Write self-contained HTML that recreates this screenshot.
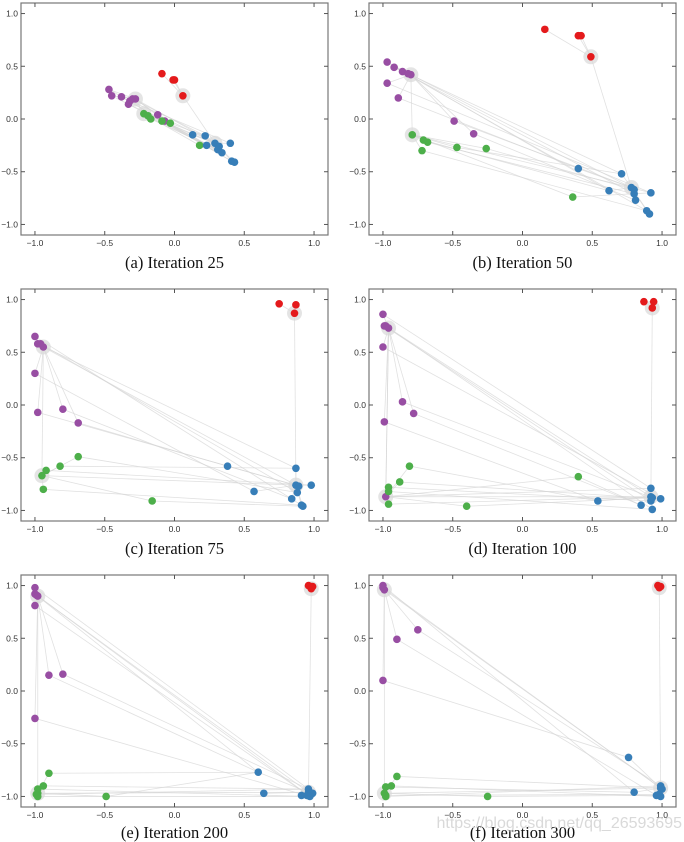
<!DOCTYPE html>
<html><head><meta charset="utf-8"><style>
html,body{margin:0;padding:0;background:#fff;}
svg{display:block;}
.tick{font-family:"Liberation Sans",sans-serif;font-size:8.5px;fill:#333;}
.cap{font-family:"Liberation Serif",serif;font-size:16.5px;fill:#111;}
</style></head><body>
<svg id="fig" width="684" height="842" viewBox="0 0 684 842"></svg>
<script>
const captions = ["(a) Iteration 25","(b) Iteration 50","(c) Iteration 75","(d) Iteration 100","(e) Iteration 200","(f) Iteration 300"];
const tickVals = [-1.0,-0.5,0.0,0.5,1.0];
const tickLabels = ["\u22121.0","\u22120.5","0.0","0.5","1.0"];

const aX=[-0.09,0,-0.01,0.06, -0.47,-0.45,-0.38,-0.3,-0.28,-0.32,-0.33,-0.12,-0.07, -0.22,-0.19,-0.17,-0.09,-0.03,0.18, 0.13,0.22,0.23,0.29,0.32,0.31,0.34,0.4,0.41,0.43];
const aY=[0.43,0.37,0.37,0.22, 0.28,0.22,0.21,0.19,0.19,0.17,0.14,0.04,-0.02, 0.05,0.03,0.0,-0.02,-0.04,-0.25, -0.15,-0.16,-0.25,-0.23,-0.26,-0.29,-0.32,-0.23,-0.4,-0.41];
const aG="rrrrpppppppppggggggbbbbbbbbbb";
const aH=[3,8,13,22];

const bX=[0.16,0.4,0.42,0.49, -0.97,-0.92,-0.86,-0.82,-0.8,-0.97,-0.89,-0.49,-0.35, -0.79,-0.71,-0.68,-0.72,-0.47,-0.26,0.36, 0.4,0.71,0.62,0.78,0.8,0.8,0.81,0.92,0.89,0.91];
const bY=[0.85,0.79,0.79,0.59, 0.54,0.49,0.45,0.43,0.42,0.34,0.2,-0.02,-0.14, -0.15,-0.2,-0.22,-0.3,-0.27,-0.28,-0.74, -0.47,-0.52,-0.68,-0.65,-0.67,-0.71,-0.77,-0.7,-0.87,-0.9];
const bG="rrrrpppppppppgggggggbbbbbbbbbb";
const bH=[3,8,13,23];

const cX=[0.75,0.87,0.86, -1.0,-0.98,-0.96,-0.94,-1.0,-0.98,-0.8,-0.69, -0.95,-0.92,-0.94,-0.82,-0.69,-0.16, 0.38,0.57,0.87,0.87,0.89,0.88,0.98,0.84,0.92,0.91];
const cY=[0.96,0.95,0.87, 0.65,0.58,0.58,0.55,0.3,-0.07,-0.04,-0.17, -0.67,-0.62,-0.8,-0.58,-0.49,-0.91, -0.58,-0.82,-0.6,-0.76,-0.77,-0.83,-0.76,-0.89,-0.96,-0.95];
const cG="rrrppppppppggggggbbbbbbbbbb";
const cH=[2,6,11,20];

const dX=[0.87,0.94,0.93, -1,-0.99,-0.98,-0.96,-1,-0.99,-0.86,-0.78, -0.98,-0.96,-0.96,-0.96,-0.88,-0.81,-0.4, 0.4,0.54,0.92,0.92,0.93,0.92,0.99,0.85,0.93];
const dY=[0.98,0.98,0.92, 0.86,0.75,0.75,0.73,0.55,-0.16,0.03,-0.08, -0.87,-0.78,-0.82,-0.94,-0.73,-0.58,-0.96, -0.68,-0.91,-0.79,-0.87,-0.88,-0.91,-0.89,-0.95,-0.99];
const dG="rrrpppppppppgggggggbbbbbbbb";
const dH=[2,6,11,21];

const eX=[0.96,0.98,0.99,0.98, -1,-1,-0.99,-0.98,-1,-0.9,-0.8,-1, -0.9,-0.94,-0.98,-0.98,-0.99,-0.98,-0.49, 0.6,0.64,0.91,0.96,0.96,0.99,0.97,0.95,0.98];
const eY=[1.0,0.99,0.99,0.97, 0.98,0.92,0.91,0.9,0.81,0.15,0.16,-0.26, -0.78,-0.9,-0.93,-0.97,-0.98,-1.0,-1.0, -0.77,-0.97,-0.99,-0.93,-0.96,-0.97,-1.0,-0.99,-0.97];
const eG="rrrrppppppppgggggggbbbbbbbbb";
const eH=[3,7,15,23];

const fX=[0.97,0.99,0.98, -1,-1,-0.99,-0.75,-0.9,-1, -0.9,-0.94,-0.98,-0.99,-0.98,-0.98,-0.25, 0.76,0.8,0.99,0.99,1.0,0.96,0.99,0.98];
const fY=[1.0,0.99,0.98, 1,0.98,0.96,0.58,0.49,0.1, -0.81,-0.9,-0.91,-0.97,-0.99,-1.0,-1.0, -0.63,-0.96,-0.9,-0.92,-0.93,-0.99,-1.0,-0.98];
const fG="rrrppppppgggggggbbbbbbbb";
const fH=[2,5,12,19];

const panels=[[aX,aY,aG,aH],[bX,bY,bG,bH],[cX,cY,cG,cH],[dX,dY,dG,dH],[eX,eY,eG,eH],[fX,fY,fG,fH]];
const colors={r:"#e41a1c",p:"#984ea3",g:"#4daf4a",b:"#377eb8"};
const NS="http://www.w3.org/2000/svg";
const svg=document.getElementById('fig');
function mk(tag,attrs,parent){const e=document.createElementNS(NS,tag);for(const k in attrs)e.setAttribute(k,attrs[k]);parent.appendChild(e);return e;}
const lefts=[21,369], tops=[3,289,575], capY=[268,554,838], W=307, H=232;

panels.forEach((p,i)=>{
  const [X,Y,G,hubs]=p;
  const x0=lefts[i%2], row=Math.floor(i/2), y0=tops[row];
  const sx=v=>x0+(v+1.1)/2.2*W, sy=v=>y0+(1.1-v)/2.2*H;
  const g=mk('g',{},svg);
  
  
  const bg=mk('rect',{x:x0,y:y0,width:W,height:H,fill:'#fff',stroke:'none'},g);
  
  
  const eg=mk('g',{stroke:'#d4d4d4','stroke-width':0.8,'stroke-opacity':0.7},g);
  
  
  const hubOf={r:hubs[0],p:hubs[1],g:hubs[2],b:hubs[3]};
  const blues=[];for(let k=0;k<X.length;k++) if(G[k]==='b') blues.push(k);
  const line=(a,b)=>{const l=mk('line',{x1:sx(X[a]),y1:sy(Y[a]),x2:sx(X[b]),y2:sy(Y[b])},eg);};
  for(let k=0;k<X.length;k++){
    const h=hubOf[G[k]]; if(h!==k) line(k,h);
    if((G[k]==='p'||G[k]==='g')&&k!==h){ line(k,blues[(k*3)%blues.length]); }
  }
  line(hubs[0],hubs[3]);line(hubs[1],hubs[3]);line(hubs[2],hubs[3]);line(hubs[1],hubs[2]);
  hubs.forEach(h=>{const c=mk('circle',{cx:sx(X[h]),cy:sy(Y[h]),r:7.5,fill:'#d8d8d8','fill-opacity':0.7},g);});
  for(let k=0;k<X.length;k++){
    const c=mk('circle',{cx:sx(X[k]),cy:sy(Y[k]),r:3.8,fill:colors[G[k]]},g);
    
    
  }
  const fr=mk('rect',{x:x0,y:y0,width:W,height:H,fill:'none',stroke:'#777','stroke-width':1.2},g);
  
  
  tickVals.forEach((v,t)=>{
    const px=sx(v), py=sy(v);
    mk('line',{x1:px,y1:y0+H,x2:px,y2:y0+H-4,stroke:'#555'},g);
    mk('line',{x1:px,y1:y0,x2:px,y2:y0+4,stroke:'#555'},g);
    mk('line',{x1:x0,y1:py,x2:x0+4,y2:py,stroke:'#555'},g);
    mk('line',{x1:x0+W,y1:py,x2:x0+W-4,y2:py,stroke:'#555'},g);
    const tx=mk('text',{x:px,y:y0+H+11,'text-anchor':'middle',class:'tick'},g);tx.textContent=tickLabels[t];
    
    const ty=mk('text',{x:x0-3,y:py+3,'text-anchor':'end',class:'tick'},g);ty.textContent=tickLabels[t];
    
  });
  const cap=mk('text',{x:x0+W/2,y:capY[row],'text-anchor':'middle',class:'cap'},g);
  cap.textContent=captions[i];
  
  
});
const wm=mk('text',{x:682,y:828,'text-anchor':'end','font-family':'Liberation Sans, sans-serif','font-size':'16','fill':'#cfcfcf','fill-opacity':0.8},svg);
wm.textContent="https://blog.csdn.net/qq_26593695";


</script>
</body></html>
